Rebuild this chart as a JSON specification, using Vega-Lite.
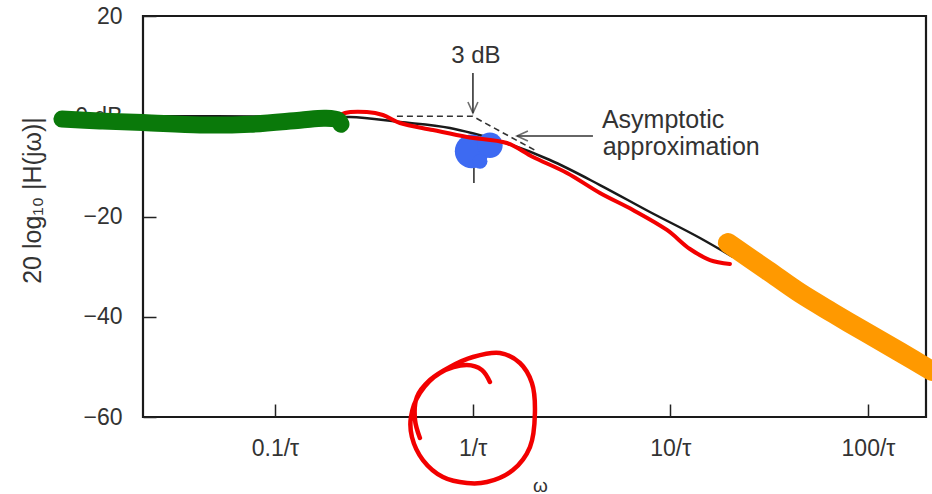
{
  "$schema": "https://vega.github.io/schema/vega-lite/v6.json",
  "width": 783,
  "height": 401,
  "autosize": {"type": "none"},
  "padding": {"left": 143, "top": 16, "right": 6, "bottom": 77},
  "background": "white",
  "config": {
    "view": {"stroke": "#1a1a1a", "strokeWidth": 2.2},
    "axis": {"grid": false, "domain": false, "labelFont": "Liberation Sans", "titleFont": "Liberation Sans", "labelColor": "#333333", "titleColor": "#333333", "tickColor": "#222222"}
  },
  "datasets": {
    "black": [
      {"w": 0.0215, "db": 0}, {"w": 0.05, "db": -0.01}, {"w": 0.1, "db": -0.04}, {"w": 0.2, "db": -0.12},
      {"w": 0.2394, "db": -0.15}, {"w": 0.4288, "db": -1.15}, {"w": 0.7676, "db": -2.34}, {"w": 1.0, "db": -3.4},
      {"w": 1.374, "db": -4.94}, {"w": 2.461, "db": -8.73}, {"w": 4.406, "db": -13.72}, {"w": 7.889, "db": -19.1},
      {"w": 14.13, "db": -24.29}, {"w": 20.75, "db": -28.08}
    ],
    "asym": [
      {"w": 0.414, "db": 0}, {"w": 1.0, "db": 0}, {"w": 2.07, "db": -6.8}
    ],
    "arrows": [
      {"seg": "a", "w": 1.0035, "db": 8.63}, {"seg": "a", "w": 1.0035, "db": 0.65},
      {"seg": "b", "w": 4.061, "db": -3.94}, {"seg": "b", "w": 1.675, "db": -3.94},
      {"seg": "c", "w": 1.015, "db": -10.12}, {"seg": "c", "w": 1.015, "db": -13.32}
    ],
    "headDown": [{"w": 1.0035, "db": 0.65}],
    "headLeft": [{"w": 1.675, "db": -3.94}],
    "blueBig": [{"w": 0.99, "db": -7.0}],
    "blueMid": [{"w": 1.223, "db": -5.8}],
    "blueSmall": [{"w": 1.09, "db": -9.0}],
    "red": [
      {"i": 1, "w": 0.1965, "db": -1.75}, {"i": 2, "w": 0.2083, "db": -0.15}, {"i": 3, "w": 0.2259, "db": 0.65},
      {"i": 4, "w": 0.2919, "db": 0.85}, {"i": 5, "w": 0.3516, "db": 0.25}, {"i": 6, "w": 0.4288, "db": -1.35},
      {"i": 7, "w": 0.6297, "db": -2.75}, {"i": 8, "w": 0.9358, "db": -4.14}, {"i": 9, "w": 1.491, "db": -5.34},
      {"i": 10, "w": 2.019, "db": -8.13}, {"i": 11, "w": 3.0, "db": -11.32}, {"i": 12, "w": 4.406, "db": -15.31},
      {"i": 13, "w": 6.471, "db": -18.7}, {"i": 14, "w": 9.616, "db": -22.69}, {"i": 15, "w": 12.57, "db": -26.48},
      {"i": 16, "w": 15.87, "db": -28.68}, {"i": 17, "w": 20.03, "db": -29.48}
    ],
    "green": [
      {"i": 1, "w": 0.008362, "db": -0.55}, {"i": 2, "w": 0.01302, "db": -0.95}, {"i": 3, "w": 0.0215, "db": -1.25},
      {"i": 4, "w": 0.04173, "db": -1.75}, {"i": 5, "w": 0.07468, "db": -1.6}, {"i": 6, "w": 0.1337, "db": -0.8},
      {"i": 7, "w": 0.1790, "db": -0.4}, {"i": 8, "w": 0.2083, "db": -0.75}, {"i": 9, "w": 0.2157, "db": -1.6}
    ],
    "orange": [
      {"i": 1, "w": 19.56, "db": -25.29}, {"i": 2, "w": 30.82, "db": -30.67}, {"i": 3, "w": 45.27, "db": -35.26},
      {"i": 4, "w": 66.49, "db": -39.25}, {"i": 5, "w": 98.81, "db": -43.24}, {"i": 6, "w": 145.1, "db": -47.03},
      {"i": 7, "w": 210.7, "db": -50.82}
    ],
    "circle": [
      {"i": 1, "w": 0.5412, "db": -64.19}, {"i": 2, "w": 0.5112, "db": -60.6}, {"i": 3, "w": 0.5226, "db": -56.01},
      {"i": 4, "w": 0.6081, "db": -52.62}, {"i": 5, "w": 0.7676, "db": -50.02}, {"i": 6, "w": 1.0035, "db": -48.03},
      {"i": 7, "w": 1.374, "db": -47.23}, {"i": 8, "w": 1.735, "db": -49.23}, {"i": 9, "w": 1.995, "db": -53.22},
      {"i": 10, "w": 2.066, "db": -59.2}, {"i": 11, "w": 1.95, "db": -65.99}, {"i": 12, "w": 1.599, "db": -70.57},
      {"i": 13, "w": 1.181, "db": -72.97}, {"i": 14, "w": 0.9358, "db": -73.17}, {"i": 15, "w": 0.7075, "db": -71.97},
      {"i": 16, "w": 0.5605, "db": -68.58}, {"i": 17, "w": 0.4931, "db": -63.99}, {"i": 18, "w": 0.4875, "db": -60.0},
      {"i": 19, "w": 0.5412, "db": -55.21}, {"i": 20, "w": 0.6834, "db": -51.22}, {"i": 21, "w": 0.9358, "db": -49.63},
      {"i": 22, "w": 1.114, "db": -50.62}, {"i": 23, "w": 1.223, "db": -53.02}
    ],
    "textCenter": [{"w": 1.039, "db": 10.62, "t": "3 dB"}],
    "textLeft": [
      {"w": 4.51, "db": -2.34, "t": "Asymptotic"},
      {"w": 4.55, "db": -7.73, "t": "approximation"}
    ]
  },
  "encoding": {
    "x": {
      "field": "w", "type": "quantitative",
      "scale": {"type": "log", "domain": [0.0215, 196.6], "nice": false},
      "axis": {
        "values": [0.1, 1, 10, 100],
        "labelExpr": "datum.value < 0.5 ? '0.1/τ' : datum.value < 5 ? '1/τ' : datum.value < 50 ? '10/τ' : '100/τ'",
        "labelFontSize": 23, "labelPadding": 33, "tickSize": -13, "tickWidth": 1.5, "labelFlush": false, "labelOverlap": false,
        "title": "ω", "titleFontSize": 19, "titleFontWeight": "normal", "titleX": 397, "titleY": 68, "titleBaseline": "middle"
      }
    },
    "y": {
      "field": "db", "type": "quantitative",
      "scale": {"domain": [-60, 20], "nice": false, "zero": false},
      "axis": {
        "values": [-60, -40, -20, 0, 20],
        "labelExpr": "datum.value == 0 ? '0 dB' : (datum.value < 0 ? '−' + (-datum.value) : '' + datum.value)",
        "labelFontSize": 23, "labelPadding": 34, "tickSize": -13, "tickWidth": 1.5, "labelFlush": false, "labelOverlap": false,
        "title": "20 log₁₀ |H(jω)|", "titleFontSize": 25, "titleFontWeight": "normal",
        "titleX": -98, "titleY": 184, "titleBaseline": "bottom", "titleAngle": -90
      }
    }
  },
  "layer": [
    {"data": {"name": "black"}, "mark": {"type": "line", "color": "#1a1a1a", "strokeWidth": 2.5, "interpolate": "monotone"}},
    {"data": {"name": "asym"}, "mark": {"type": "line", "color": "#333333", "strokeWidth": 1.6, "strokeDash": [6, 4]}},
    {"data": {"name": "arrows"}, "mark": {"type": "line", "color": "#333333", "strokeWidth": 1.6}, "encoding": {"detail": {"field": "seg"}}},
    {"data": {"name": "headDown"}, "mark": {"type": "point", "shape": "M-1,-2.2L0,0L1,-2.2", "size": 100, "filled": false, "stroke": "#333333", "strokeWidth": 1.6}},
    {"data": {"name": "headLeft"}, "mark": {"type": "point", "shape": "M2.2,-1L0,0L2.2,1", "size": 100, "filled": false, "stroke": "#333333", "strokeWidth": 1.6}},
    {"data": {"name": "blueBig"}, "mark": {"type": "point", "shape": "circle", "size": 1150, "filled": true, "color": "#3d6af2", "opacity": 1}},
    {"data": {"name": "blueMid"}, "mark": {"type": "point", "shape": "circle", "size": 650, "filled": true, "color": "#3d6af2", "opacity": 1}},
    {"data": {"name": "blueSmall"}, "mark": {"type": "point", "shape": "circle", "size": 220, "filled": true, "color": "#3d6af2", "opacity": 1}},
    {"data": {"name": "red"}, "mark": {"type": "line", "color": "#f20000", "strokeWidth": 4, "interpolate": "catmull-rom", "strokeCap": "round", "strokeJoin": "round"}, "encoding": {"order": {"field": "i"}}},
    {"data": {"name": "green"}, "mark": {"type": "line", "color": "#0a790a", "strokeWidth": 17, "interpolate": "catmull-rom", "strokeCap": "round", "strokeJoin": "round"}, "encoding": {"order": {"field": "i"}}},
    {"data": {"name": "orange"}, "mark": {"type": "line", "color": "#ff9900", "strokeWidth": 20, "interpolate": "catmull-rom", "strokeCap": "round", "strokeJoin": "round"}, "encoding": {"order": {"field": "i"}}},
    {"data": {"name": "circle"}, "mark": {"type": "line", "color": "#f20000", "strokeWidth": 4.5, "interpolate": "catmull-rom", "strokeCap": "round", "strokeJoin": "round"}, "encoding": {"order": {"field": "i"}}},
    {"data": {"name": "textCenter"}, "mark": {"type": "text", "align": "center", "baseline": "alphabetic", "font": "Liberation Sans", "fontSize": 24, "color": "#333333"}, "encoding": {"text": {"field": "t"}}},
    {"data": {"name": "textLeft"}, "mark": {"type": "text", "align": "left", "baseline": "alphabetic", "font": "Liberation Sans", "fontSize": 25, "color": "#333333"}, "encoding": {"text": {"field": "t"}}}
  ]
}
